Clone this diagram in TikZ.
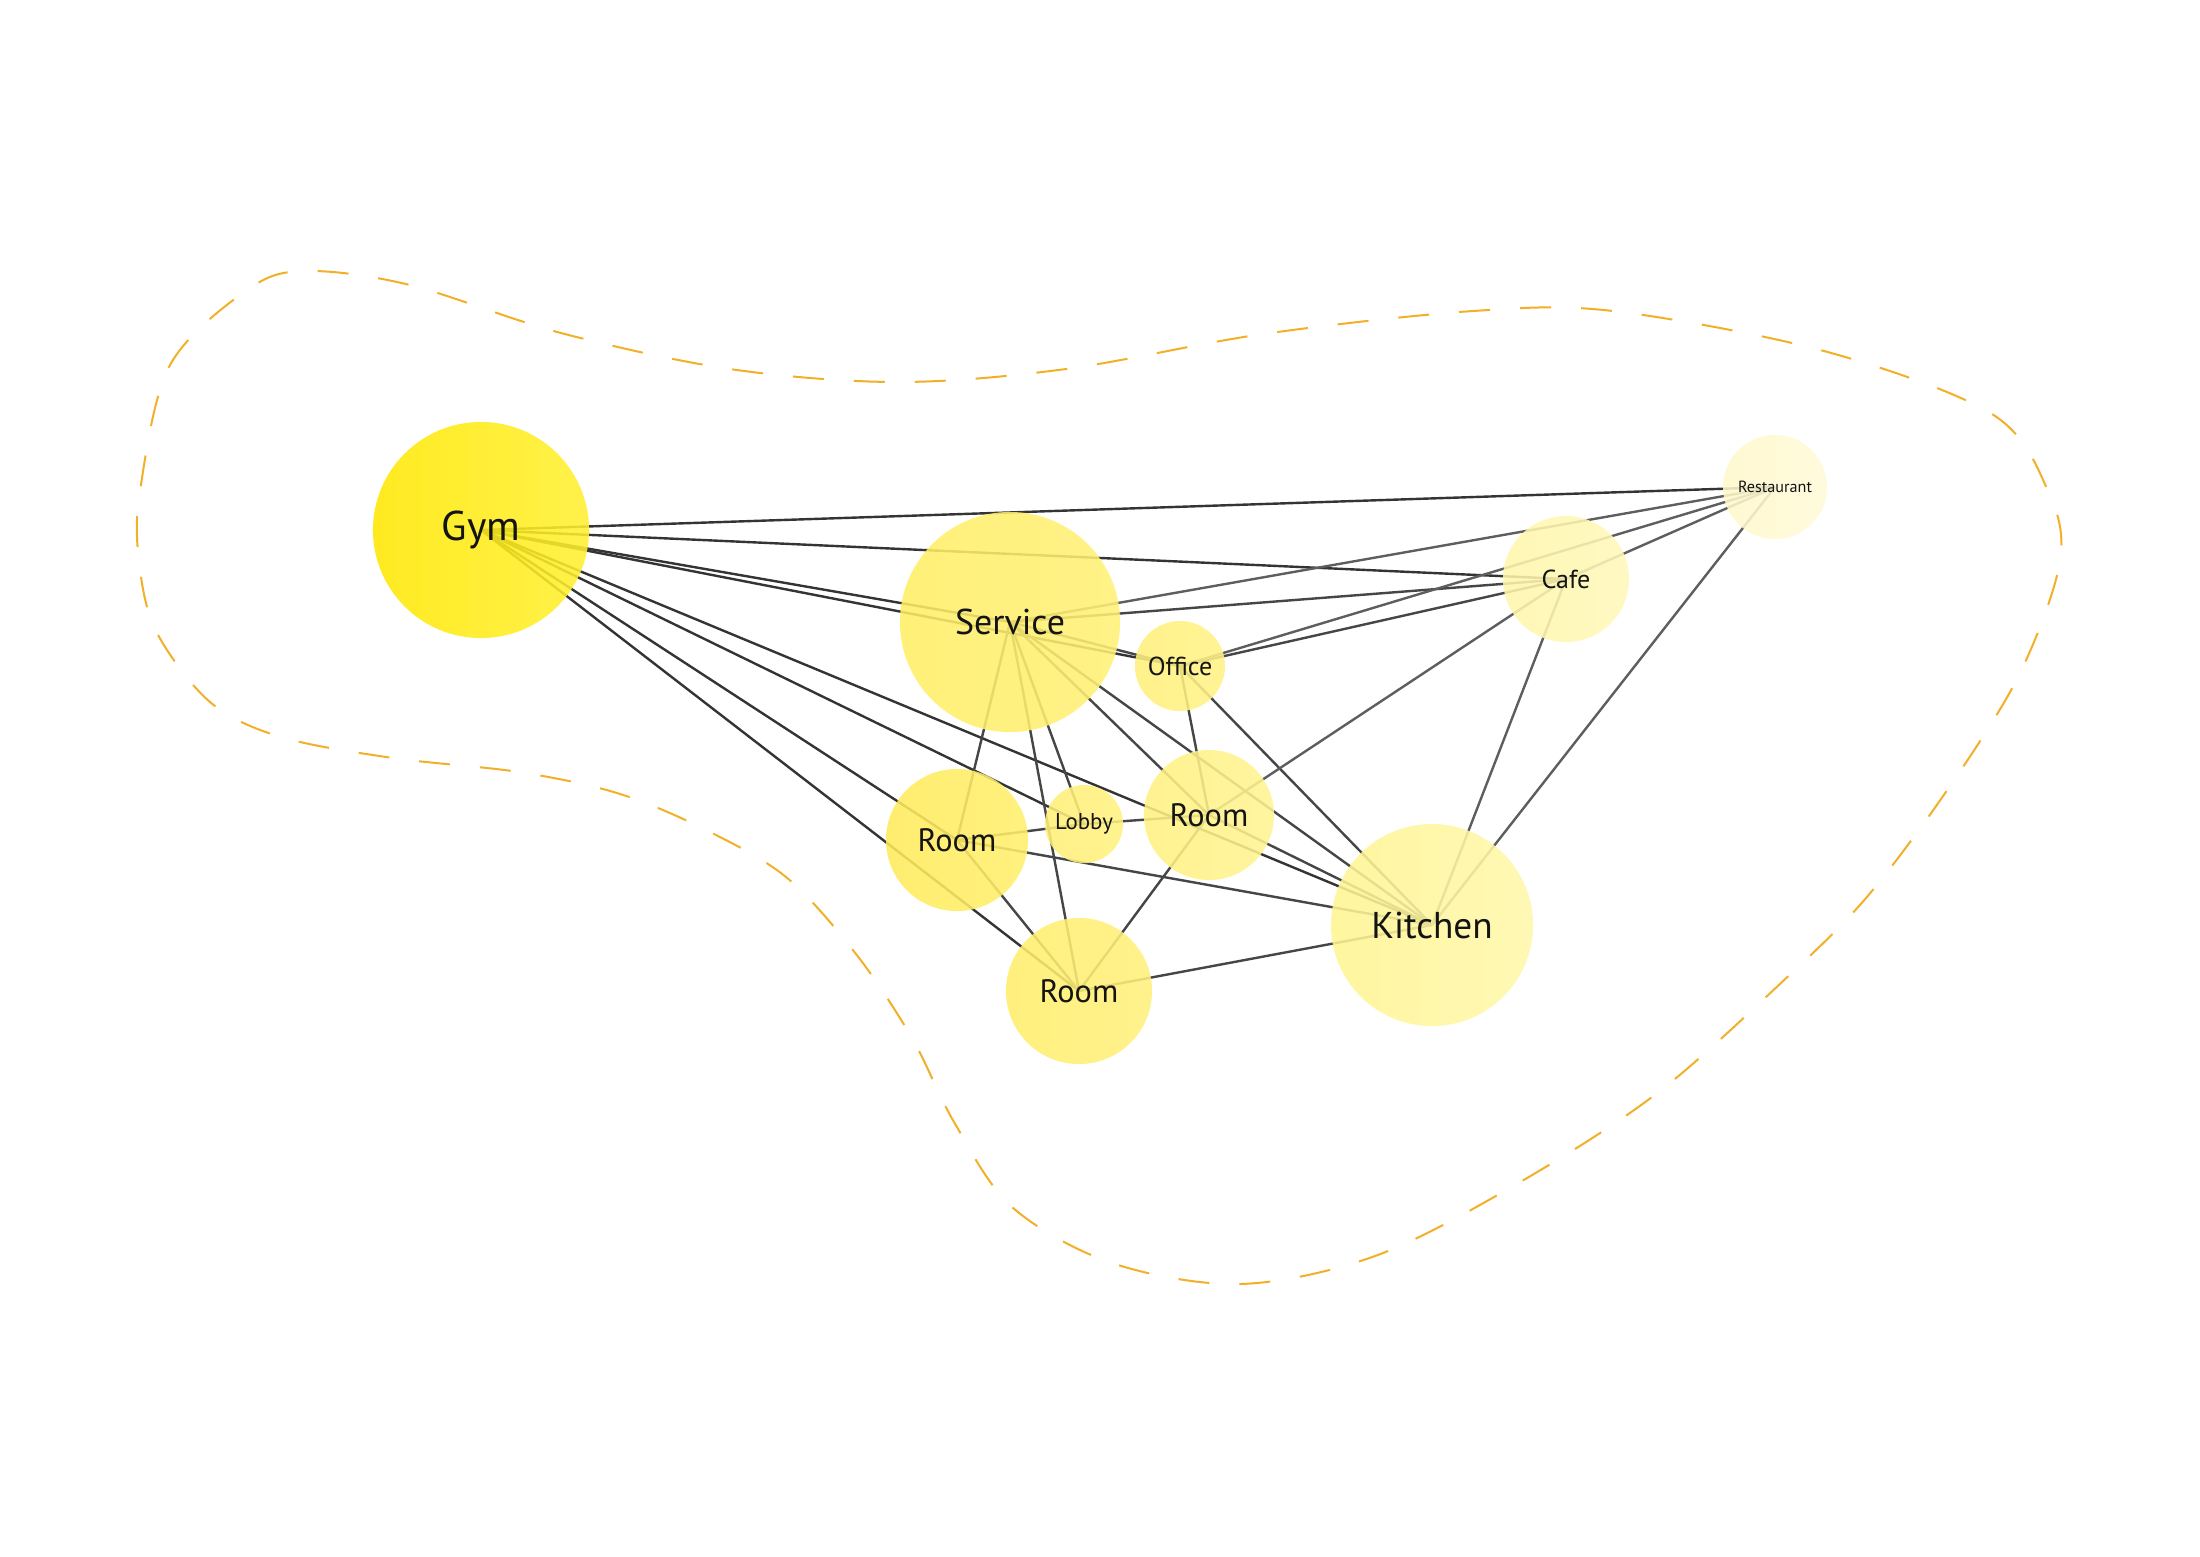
\documentclass[tikz,border=0pt]{standalone}
\usepackage{fontspec}
\setmainfont{PT Sans}
\usetikzlibrary{backgrounds}

% node fills (left / right of each disc)
\definecolor{gymA}{RGB}{255,232,0}
\definecolor{gymB}{RGB}{255,240,48}
\definecolor{srvA}{RGB}{255,238,100}
\definecolor{srvB}{RGB}{255,241,118}
\definecolor{offA}{RGB}{255,241,123}
\definecolor{offB}{RGB}{255,242,134}
\definecolor{rlA}{RGB}{255,235,90}
\definecolor{rlB}{RGB}{255,239,108}
\definecolor{lobA}{RGB}{255,240,118}
\definecolor{lobB}{RGB}{255,242,128}
\definecolor{rmA}{RGB}{255,241,128}
\definecolor{rmB}{RGB}{255,244,146}
\definecolor{rbA}{RGB}{255,238,106}
\definecolor{rbB}{RGB}{255,241,124}
\definecolor{kitA}{RGB}{255,245,146}
\definecolor{kitB}{RGB}{255,247,170}
\definecolor{cafA}{RGB}{255,246,170}
\definecolor{cafB}{RGB}{255,248,186}
\definecolor{resA}{RGB}{255,249,203}
\definecolor{resB}{RGB}{255,250,216}
% connectors and outline
\definecolor{lineA}{RGB}{52,52,52}
\definecolor{lineB}{RGB}{70,70,70}
\definecolor{lineC}{RGB}{94,94,94}
\definecolor{blobline}{RGB}{242,176,40}

\begin{document}
\begin{tikzpicture}[x=0.01cm,y=-0.01cm,
  disc/.style={circle, inner sep=0pt, fill opacity=0.87, text opacity=1,
               text={rgb,255:red,20;green,20;blue,20}},
  big/.style={font=\fontsize{10.2}{12}\selectfont},
  mid/.style={font=\fontsize{9.2}{10}\selectfont},
  small/.style={font=\fontsize{7.4}{9}\selectfont},
  link/.style={line width=0.024cm, draw=#1},
  blob/.style={draw=blobline, line width=0.02cm, dash pattern=on 0.31cm off 0.30cm}]

\useasboundingbox (0,0) rectangle (2200,1556);

% dashed outline around the cluster
\draw[blob] plot[smooth cycle, tension=0.55] coordinates {
  (140,491) (170,365) (250,288) (308,271) (410,285) (561,333) (730,369)
  (898,382) (1066,369) (1263,334) (1473,311) (1613,311) (1824,351)
  (1992,414) (2048,491) (2060,561) (2020,673) (1950,786) (1866,898)
  (1782,982) (1656,1094) (1515,1185) (1375,1256) (1240,1284) (1112,1263)
  (1012,1207) (954,1122) (912,1038) (856,954) (786,877) (702,828)
  (617,793) (519,772) (393,758) (281,737) (210,702) (156,631) (139,561)};

% spaces
\node[disc, minimum size=2.16cm, left color=gymA, right color=gymB,
      font=\fontsize{11.8}{13}\selectfont] (gym) at (481,530) {Gym};
\node[disc, big, minimum size=2.20cm, left color=srvA, right color=srvB] (srv) at (1010,622) {Service};
\node[disc, small, minimum size=0.90cm, left color=offA, right color=offB] (off) at (1180,666) {Office};
\node[disc, small, minimum size=1.26cm, left color=cafA, right color=cafB] (caf) at (1566,579) {Cafe};
\node[disc, minimum size=1.04cm, left color=resA, right color=resB,
      font=\fontsize{4.6}{6}\selectfont] (res) at (1775,487) {Restaurant};
\node[disc, mid, minimum size=1.42cm, left color=rlA, right color=rlB] (rl) at (957,840) {Room};
\node[disc, minimum size=0.78cm, left color=lobA, right color=lobB,
      font=\fontsize{6.5}{8}\selectfont] (lob) at (1084,824) {Lobby};
\node[disc, mid, minimum size=1.30cm, left color=rmA, right color=rmB] (rm) at (1209,815) {Room};
\node[disc, mid, minimum size=1.46cm, left color=rbA, right color=rbB] (rb) at (1079,991) {Room};
\node[disc, minimum size=2.02cm, left color=kitA, right color=kitB,
      font=\fontsize{10.6}{12}\selectfont] (kit) at (1432,925) {Kitchen};

% connectors, behind the discs
\begin{scope}[on background layer]
  \fill[white] (0,0) rectangle (2200,1556);
  \draw[link=lineA] (gym.center) -- (res.center);
  \draw[link=lineA] (gym.center) -- (caf.center);
  \draw[link=lineA] (gym.center) -- (srv.center);
  \draw[link=lineA] (gym.center) -- (off.center);
  \draw[link=lineA] (gym.center) -- (lob.center);
  \draw[link=lineA] (gym.center) -- (rl.center);
  \draw[link=lineA] (gym.center) -- (rb.center);
  \draw[link=lineA] (gym.center) -- (kit.center);
  \draw[link=lineB] (srv.center) -- (off.center);
  \draw[link=lineC] (srv.center) -- (res.center);
  \draw[link=lineB] (srv.center) -- (caf.center);
  \draw[link=lineB] (srv.center) -- (rl.center);
  \draw[link=lineB] (srv.center) -- (lob.center);
  \draw[link=lineB] (srv.center) -- (rb.center);
  \draw[link=lineB] (srv.center) -- (rm.center);
  \draw[link=lineB] (srv.center) -- (kit.center);
  \draw[link=lineB] (off.center) -- (caf.center);
  \draw[link=lineC] (off.center) -- (res.center);
  \draw[link=lineB] (off.center) -- (rm.center);
  \draw[link=lineB] (off.center) -- (kit.center);
  \draw[link=lineC] (caf.center) -- (res.center);
  \draw[link=lineC] (caf.center) -- (rm.center);
  \draw[link=lineC] (caf.center) -- (kit.center);
  \draw[link=lineC] (res.center) -- (kit.center);
  \draw[link=lineB] (rl.center) -- (lob.center);
  \draw[link=lineB] (rl.center) -- (rb.center);
  \draw[link=lineB] (rl.center) -- (kit.center);
  \draw[link=lineB] (lob.center) -- (rm.center);
  \draw[link=lineB] (rm.center) -- (rb.center);
  \draw[link=lineB] (rm.center) -- (kit.center);
  \draw[link=lineB] (rb.center) -- (kit.center);
\end{scope}
\end{tikzpicture}
\end{document}
